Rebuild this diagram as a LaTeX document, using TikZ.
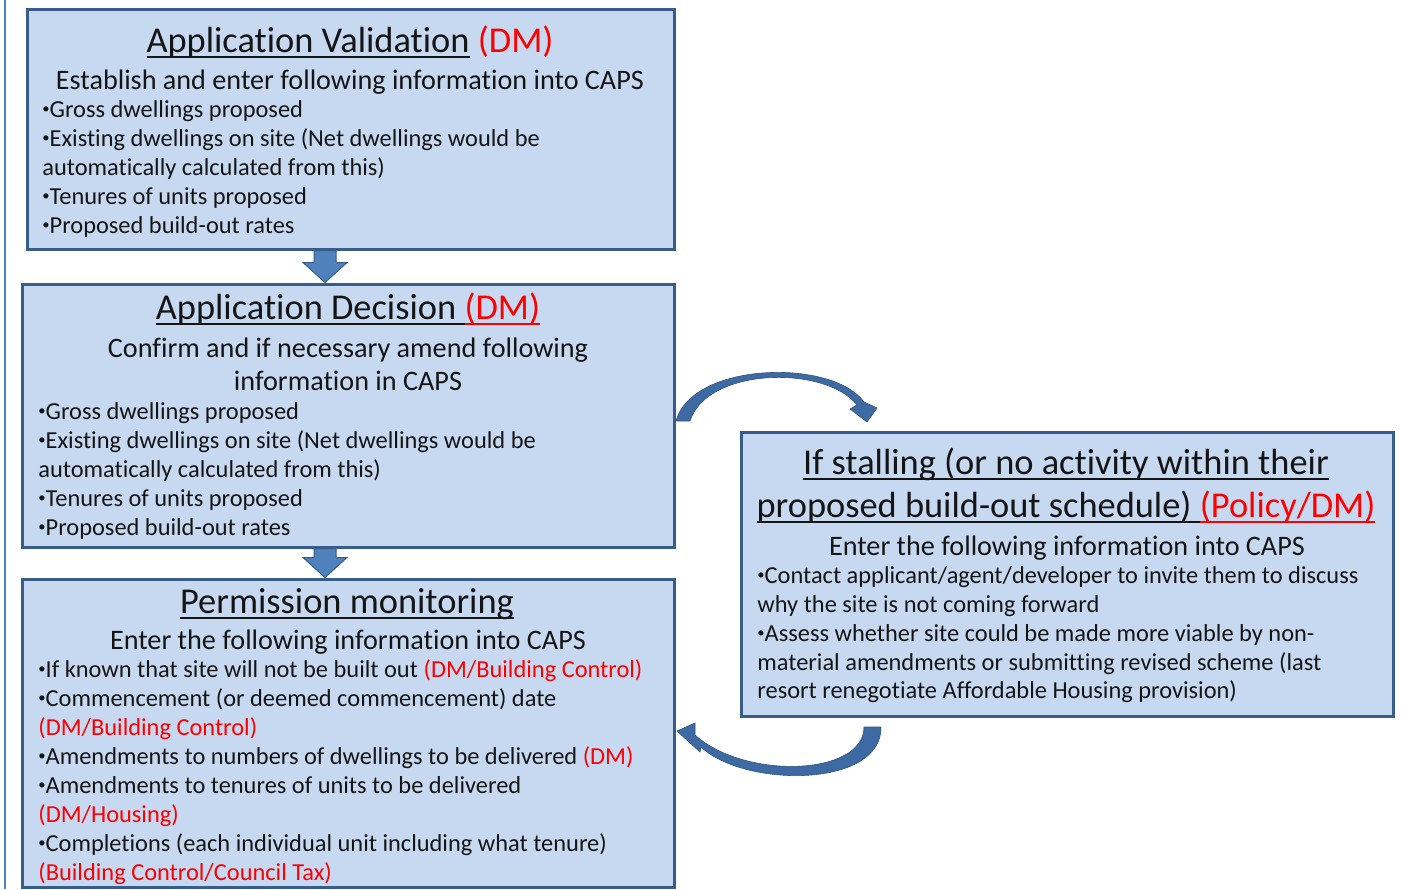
\documentclass[tikz,border=0pt]{standalone}
\usepackage{fontspec}
\setmainfont{Carlito}[Ligatures=NoCommon]
\usetikzlibrary{calc}
\definecolor{boxfill}{RGB}{198,217,241}
\definecolor{boxline}{RGB}{56,93,138}
\definecolor{arrfill}{RGB}{79,129,189}
\definecolor{curvefill}{RGB}{62,106,163}
\definecolor{txt}{RGB}{20,20,20}
\definecolor{rd}{RGB}{255,0,0}
\newsavebox\myulbox
\newcommand\myul[2][txt]{\sbox\myulbox{#2}\rlap{\textcolor{#1}{\rule[-2.8pt]{\wd\myulbox}{0.8pt}}}\usebox\myulbox}
\newcommand\bu{\raisebox{0.14em}{\scalebox{0.6}{•}}}
\tikzset{
  box/.style={draw=boxline, fill=boxfill, line width=1.5pt, inner sep=0pt},
  blockarrow/.style={fill=arrfill, draw=boxline, line width=0.5pt},
  curvearrow/.style={fill=curvefill, draw=curvefill!80!black, line width=0.3pt},
  ttl/.style={inner sep=0pt, anchor=base, text=txt, font=\fontsize{18.2}{20}\selectfont},
  ttlbig/.style={inner sep=0pt, anchor=base, text=txt, font=\fontsize{18.2}{20}\selectfont},
  sub/.style={inner sep=0pt, anchor=base, text=txt, font=\fontsize{14.1}{16}\selectfont},
  bul/.style={inner sep=0pt, anchor=base west, text=txt, font=\fontsize{12.2}{14}\selectfont},
}
\begin{document}
\begin{tikzpicture}[x=0.5pt, y=-0.5pt]
\useasboundingbox (0,0) rectangle (1402,889);
\fill[white] (0,0) rectangle (1402,889);
\draw[arrfill, line width=0.8pt] (5,0) -- (5,889);

% boxes
\node[box, minimum width=323.5pt, minimum height=120pt] (b1) at (350.5,129) {};
\node[box, minimum width=326pt, minimum height=131.5pt] (b2) at (348,415.5) {};
\node[box, minimum width=326pt, minimum height=154pt] (b3) at (348,733) {};
\node[box, minimum width=326pt, minimum height=142pt] (b4) at (1067,574) {};

% down arrows
\coordinate (ax) at (325,0);
\draw[blockarrow] ($(b1.south -| ax)+(-11,0)$) -- ($(b2.north -| ax)+(-11,-20)$) -- ++(-11,0)
  -- (b2.north -| ax) -- ++(22,-20) -- ++(-11,0) -- ($(b1.south -| ax)+(11,0)$) -- cycle;
\draw[blockarrow] ($(b2.south -| ax)+(-11,0)$) -- ($(b3.north -| ax)+(-11,-20)$) -- ++(-11,0)
  -- (b3.north -| ax) -- ++(22,-20) -- ++(-11,0) -- ($(b2.south -| ax)+(11,0)$) -- cycle;

% curved arrow: decision -> stalling
\coordinate (c1s) at (676,421);
\draw[curvearrow] (c1s) .. controls (692,362) and (832,358) .. (864,402)
  -- (877,408) -- (867,422) -- (850,409) -- (857,405)
  .. controls (826,365) and (707,367) .. (690,421) -- cycle;

% curved arrow: stalling -> monitoring
\coordinate (c2s) at (881,727);
\draw[curvearrow] (c2s) .. controls (882,788) and (745,788) .. (701,747)
  -- (700,752) -- (677,731) -- (695,723) -- (695,735)
  .. controls (745,780) and (864,776) .. (864,727) -- cycle;

% Box 1 text
\node[ttl] (t1) at (350,52) {\myul{Application Validation} \textcolor{rd}{(DM)}};
\node[sub] (s1) at (350,89) {Establish and enter following information into CAPS};
\node[bul] (l11) at (42,117) {\bu Gross dwellings proposed};
\node[bul] (l12) at (42,146) {\bu Existing dwellings on site (Net dwellings would be};
\node[bul] (l13) at (42,175) {automatically calculated from this)};
\node[bul] (l14) at (42,204) {\bu Tenures of units proposed};
\node[bul] (l15) at (42,233) {\bu Proposed build-out rates};

% Box 2 text
\node[ttl] (t2) at (348,319) {\myul{Application Decision\ }\myul[rd]{\textcolor{rd}{(DM)}}};
\node[sub] (s21) at (348,357) {Confirm and if necessary amend following};
\node[sub] (s22) at (348,390) {information in CAPS};
\node[bul] (l21) at (38,419) {\bu Gross dwellings proposed};
\node[bul] (l22) at (38,448) {\bu Existing dwellings on site (Net dwellings would be};
\node[bul] (l23) at (38,477) {automatically calculated from this)};
\node[bul] (l24) at (38,506) {\bu Tenures of units proposed};
\node[bul] (l25) at (38,535) {\bu Proposed build-out rates};

% Box 3 text
\node[ttl] (t3) at (347,613) {\myul{Permission monitoring}};
\node[sub] (s3) at (348,649) {Enter the following information into CAPS};
\node[bul] (l31) at (38,677) {\bu If known that site will not be built out \textcolor{rd}{(DM/Building Control)}};
\node[bul] (l32) at (38,706) {\bu Commencement (or deemed commencement) date};
\node[bul] (l33) at (38,735) {\textcolor{rd}{(DM/Building Control)}};
\node[bul] (l34) at (38,764) {\bu Amendments to numbers of dwellings to be delivered \textcolor{rd}{(DM)}};
\node[bul] (l35) at (38,793) {\bu Amendments to tenures of units to be delivered};
\node[bul] (l36) at (38,822) {\textcolor{rd}{(DM/Housing)}};
\node[bul] (l37) at (38,851) {\bu Completions (each individual unit including what tenure)};
\node[bul] (l38) at (38,880) {\textcolor{rd}{(Building Control/Council Tax)}};

% Box 4 text
\node[ttlbig] (t41) at (1066,474) {\myul{If stalling (or no activity within their}};
\node[ttlbig] (t42) at (1066,517) {\myul{proposed build-out schedule)\ }\myul[rd]{\textcolor{rd}{(Policy/DM)}}};
\node[sub] (s4) at (1067,555) {Enter the following information into CAPS};
\node[bul] (l41) at (757,583) {\bu Contact applicant/agent/developer to invite them to discuss};
\node[bul] (l42) at (757,612) {why the site is not coming forward};
\node[bul] (l43) at (757,641) {\bu Assess whether site could be made more viable by non-};
\node[bul] (l44) at (757,670) {material amendments or submitting revised scheme (last};
\node[bul] (l45) at (757,698) {resort renegotiate Affordable Housing provision)};
\end{tikzpicture}
\end{document}
